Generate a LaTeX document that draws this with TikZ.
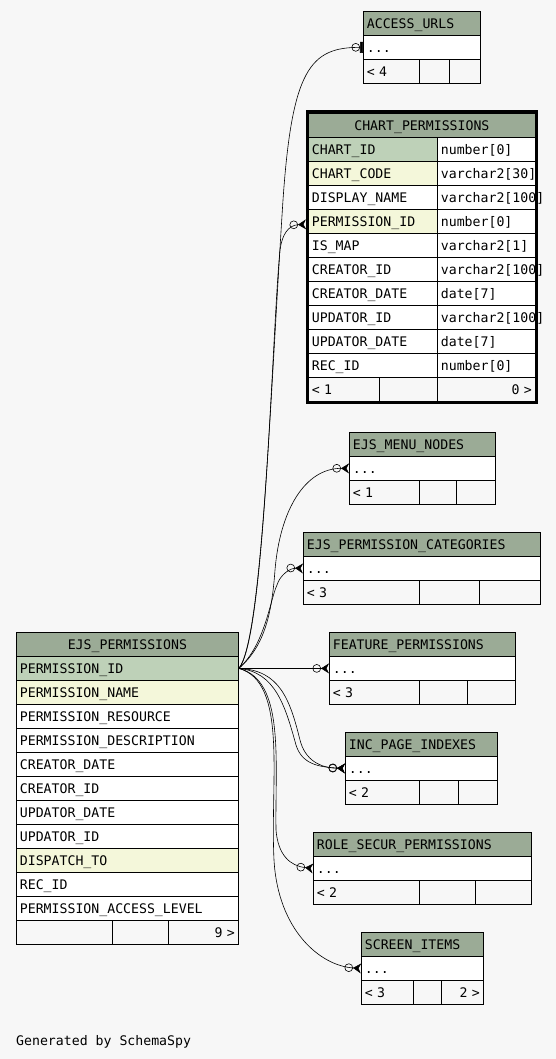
\documentclass[tikz,border=0pt]{standalone}
\usepackage{fontspec}
\usepackage{xcolor}
\usepackage{tikz}
\usetikzlibrary{arrows.meta,positioning}

\newfontfamily\erdmono{DejaVu Sans Mono}
\newcommand{\erdfont}{\erdmono\fontsize{13.2pt}{15pt}\selectfont}

\definecolor{bgcol}{HTML}{F7F7F7}
\definecolor{headcol}{HTML}{9BAB96}
\definecolor{keycol}{HTML}{BED1B8}
\definecolor{idxcol}{HTML}{F4F7DA}

\begin{document}
\begin{tikzpicture}[x=1pt, y=-1pt,
		cell/.style={draw, line width=0.8pt, anchor=north west, minimum height=24pt, inner xsep=3.5pt, inner ysep=0pt, text height=9.6pt, text depth=0pt, align=left, fill=white, font=\erdfont, text width=#1},
		head/.style={cell=#1, fill=headcol},
		pkey/.style={cell=#1, fill=keycol},
		fkey/.style={cell=#1, fill=idxcol},
		foot/.style={cell=#1, fill=bgcol},
		zeromany/.style={line width=0.6pt, -{Circle[open,length=8.5pt,width=8.5pt] Stealth[reversed,length=8pt,width=10pt,inset=2.5pt]}},
		zeroone/.style={line width=0.6pt, -{Circle[open,length=8.5pt,width=8.5pt] Rectangle[length=3pt,width=11pt]}}]

		\useasboundingbox (0,0) rectangle (556,1059);
		\fill[bgcol] (0,0) rectangle (556,1059);

		% EJS_PERMISSIONS
		\node[head=215pt, align=center] (ep) at (16,632) {EJS\_PERMISSIONS};
		\node[pkey=215pt] (ep-id) at (16,656) {PERMISSION\_ID};
		\node[fkey=215pt] (ep-name) at (16,680) {PERMISSION\_NAME};
		\node[cell=215pt] (ep-res) at (16,704) {PERMISSION\_RESOURCE};
		\node[cell=215pt] (ep-desc) at (16,728) {PERMISSION\_DESCRIPTION};
		\node[cell=215pt] (ep-cdate) at (16,752) {CREATOR\_DATE};
		\node[cell=215pt] (ep-cid) at (16,776) {CREATOR\_ID};
		\node[cell=215pt] (ep-udate) at (16,800) {UPDATOR\_DATE};
		\node[cell=215pt] (ep-uid) at (16,824) {UPDATOR\_ID};
		\node[fkey=215pt] (ep-disp) at (16,848) {DISPATCH\_TO};
		\node[cell=215pt] (ep-rec) at (16,872) {REC\_ID};
		\node[cell=215pt] (ep-lvl) at (16,896) {PERMISSION\_ACCESS\_LEVEL};
		\node[foot=89pt] (ep-f1) at (16,920) {};
		\node[foot=49pt] (ep-f2) at (112,920) {};
		\node[foot=63pt, align=right] (ep-f3) at (168,920) {9 >};

		% CHART_PERMISSIONS
		\node[head=220pt, align=center] (cp) at (308,113) {CHART\_PERMISSIONS};
		\node[pkey=122pt] (cp-id) at (308,137) {CHART\_ID};
		\node[cell=91pt] (cp-id-t) at (437,137) {number[0]};
		\node[fkey=122pt] (cp-code) at (308,161) {CHART\_CODE};
		\node[cell=91pt] (cp-code-t) at (437,161) {varchar2[30]};
		\node[cell=122pt] (cp-disp) at (308,185) {DISPLAY\_NAME};
		\node[cell=91pt] (cp-disp-t) at (437,185) {varchar2[100]};
		\node[fkey=122pt] (cp-pid) at (308,209) {PERMISSION\_ID};
		\node[cell=91pt] (cp-pid-t) at (437,209) {number[0]};
		\node[cell=122pt] (cp-map) at (308,233) {IS\_MAP};
		\node[cell=91pt] (cp-map-t) at (437,233) {varchar2[1]};
		\node[cell=122pt] (cp-cid) at (308,257) {CREATOR\_ID};
		\node[cell=91pt] (cp-cid-t) at (437,257) {varchar2[100]};
		\node[cell=122pt] (cp-cdate) at (308,281) {CREATOR\_DATE};
		\node[cell=91pt] (cp-cdate-t) at (437,281) {date[7]};
		\node[cell=122pt] (cp-uid) at (308,305) {UPDATOR\_ID};
		\node[cell=91pt] (cp-uid-t) at (437,305) {varchar2[100]};
		\node[cell=122pt] (cp-udate) at (308,329) {UPDATOR\_DATE};
		\node[cell=91pt] (cp-udate-t) at (437,329) {date[7]};
		\node[cell=122pt] (cp-rec) at (308,353) {REC\_ID};
		\node[cell=91pt] (cp-rec-t) at (437,353) {number[0]};
		\node[foot=64pt] (cp-f1) at (308,377) {< 1};
		\node[foot=51pt] (cp-f2) at (379,377) {};
		\node[foot=91pt, align=right] (cp-f3) at (437,377) {0 >};
		\draw[line width=3pt] (307,112) rectangle (536,402);

		% ACCESS_URLS
		\node[head=110pt] (au) at (363,11) {ACCESS\_URLS};
		\node[cell=110pt] (au-row) at (363,35) {...};
		\node[foot=49pt] (au-f1) at (363,59) {< 4};
		\node[foot=23pt] (au-f2) at (419,59) {};
		\node[foot=24pt] (au-f3) at (449,59) {};

		% EJS_MENU_NODES
		\node[head=139pt] (mn) at (349,432) {EJS\_MENU\_NODES};
		\node[cell=139pt] (mn-row) at (349,456) {...};
		\node[foot=63pt] (mn-f1) at (349,480) {< 1};
		\node[foot=30pt] (mn-f2) at (419,480) {};
		\node[foot=32pt] (mn-f3) at (456,480) {};

		% EJS_PERMISSION_CATEGORIES
		\node[head=230pt] (pc) at (303,532) {EJS\_PERMISSION\_CATEGORIES};
		\node[cell=230pt] (pc-row) at (303,556) {...};
		\node[foot=109pt] (pc-f1) at (303,580) {< 3};
		\node[foot=53pt] (pc-f2) at (419,580) {};
		\node[foot=54pt] (pc-f3) at (479,580) {};

		% FEATURE_PERMISSIONS
		\node[head=179pt] (fp) at (329,632) {FEATURE\_PERMISSIONS};
		\node[cell=179pt] (fp-row) at (329,656) {...};
		\node[foot=83pt] (fp-f1) at (329,680) {< 3};
		\node[foot=41pt] (fp-f2) at (419,680) {};
		\node[foot=41pt] (fp-f3) at (467,680) {};

		% INC_PAGE_INDEXES
		\node[head=145pt] (ip) at (345,732) {INC\_PAGE\_INDEXES};
		\node[cell=145pt] (ip-row) at (345,756) {...};
		\node[foot=67pt] (ip-f1) at (345,780) {< 2};
		\node[foot=32pt] (ip-f2) at (419,780) {};
		\node[foot=32pt] (ip-f3) at (458,780) {};

		% ROLE_SECUR_PERMISSIONS
		\node[head=211pt] (rs) at (313,832) {ROLE\_SECUR\_PERMISSIONS};
		\node[cell=211pt] (rs-row) at (313,856) {...};
		\node[foot=99pt] (rs-f1) at (313,880) {< 2};
		\node[foot=49pt] (rs-f2) at (419,880) {};
		\node[foot=49pt] (rs-f3) at (475,880) {};

		% SCREEN_ITEMS
		\node[head=115pt] (si) at (361,932) {SCREEN\_ITEMS};
		\node[cell=115pt] (si-row) at (361,956) {...};
		\node[foot=45pt] (si-f1) at (361,980) {< 3};
		\node[foot=21pt] (si-f2) at (413,980) {};
		\node[foot=35pt, align=right] (si-f3) at (441,980) {2 >};

		% relations
		\draw[zeroone] (ep-id.east) .. controls (262,640) and (270,400) .. (283,200) .. controls (292,70) and (310,47) .. (au-row.west);
		\draw[zeromany] (ep-id.east) .. controls (265,640) and (272,330) .. (280,250) .. controls (282,235) and (288,225) .. ([xshift=-2pt,yshift=-3pt]cp-pid.west);
		\draw[zeromany] (ep-id.east) .. controls (266,645) and (272,610) .. (275,570) .. controls (280,510) and (305,468) .. (mn-row.west);
		\draw[zeromany] (ep-id.east) .. controls (265,645) and (270,600) .. (277,585) .. controls (280,575) and (290,568) .. (pc-row.west);
		\draw[zeromany] (ep-id.east) -- (fp-row.west);
		\draw[zeromany] (ep-id.east) .. controls (280,670) and (290,700) .. (300,740) .. controls (305,760) and (320,768) .. (ip-row.west);
		\draw[zeromany] (ep-id.east) .. controls (275,672) and (285,705) .. (296,745) .. controls (302,764) and (318,767) .. (ip-row.west);
		\draw[zeromany] (ep-id.east) .. controls (285,680) and (275,760) .. (276,830) .. controls (278,855) and (290,866) .. (rs-row.west);
		\draw[zeromany] (ep-id.east) .. controls (288,682) and (270,780) .. (274,860) .. controls (278,930) and (320,966) .. (si-row.west);

		\node[anchor=base west, inner sep=0pt, font=\erdfont] (credit) at (16,1045) {Generated by SchemaSpy};
	\end{tikzpicture}
\end{document}
